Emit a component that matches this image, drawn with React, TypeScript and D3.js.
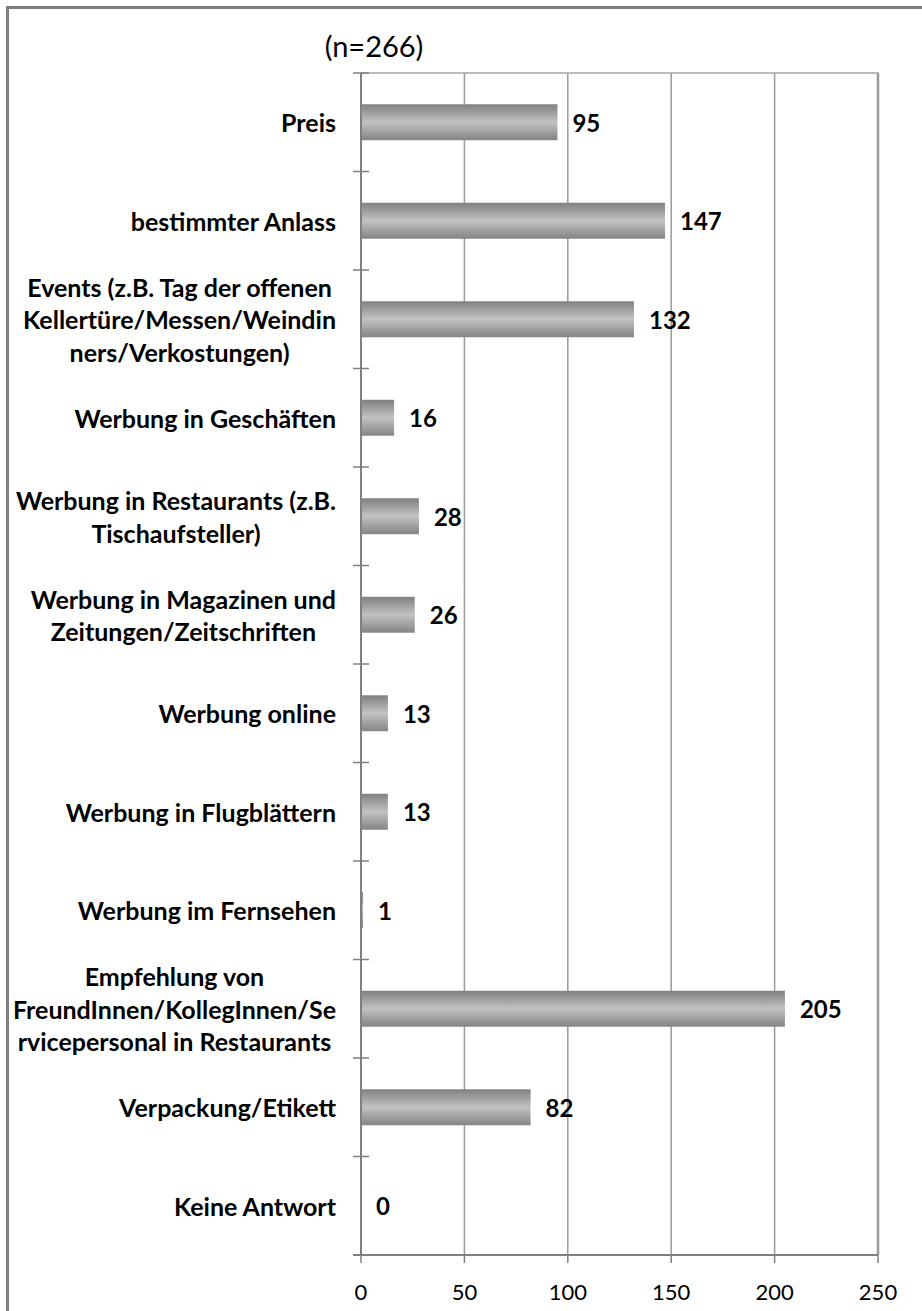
import React, { useEffect, useRef } from 'react';
import * as d3 from 'd3';

const width = 922, height = 1311;
const margin = { top: 73, right: 44, bottom: 56, left: 361 };

// category labels, already wrapped the way the chart wraps them
const categories: string[][] = [
    ['Preis'],
    ['bestimmter Anlass'],
    ['Events (z.B. Tag der offenen', 'Kellertüre/Messen/Weindin', 'ners/Verkostungen)'],
    ['Werbung in Geschäften'],
    ['Werbung in Restaurants (z.B.', 'Tischaufsteller)'],
    ['Werbung in Magazinen und', 'Zeitungen/Zeitschriften'],
    ['Werbung online'],
    ['Werbung in Flugblättern'],
    ['Werbung im Fernsehen'],
    ['Empfehlung von', 'FreundInnen/KollegInnen/Se', 'rvicepersonal in Restaurants'],
    ['Verpackung/Etikett'],
    ['Keine Antwort'],
];
const values = [95, 147, 132, 16, 28, 26, 13, 13, 1, 205, 82, 0];
const xTicks = [0, 50, 100, 150, 200, 250];
const title = '(n=266)';

const font = 'Lato, Calibri, sans-serif';

export default function App() {
    const ref = useRef<SVGSVGElement>(null);

    useEffect(() => {
        const svg = d3.select(ref.current);
        svg.selectAll('*').remove();

        const x = d3.scaleLinear().domain([0, 250]).range([margin.left, width - margin.right]);
        const ids = categories.map((_, i) => i);
        // paddingOuter = paddingInner / 2 keeps one step per category
        const y = d3.scaleBand<number>().domain(ids)
            .range([margin.top, height - margin.bottom])
            .paddingInner(0.635).paddingOuter(0.3175);
        const step = y.step();
        const yBottom = height - margin.bottom;

        // bar gradient
        const grad = svg.append('defs').append('linearGradient')
            .attr('id', 'barGrad').attr('x1', 0).attr('y1', 0).attr('x2', 0).attr('y2', 1);
        grad.append('stop').attr('offset', '0%').attr('stop-color', '#808080');
        grad.append('stop').attr('offset', '50%').attr('stop-color', '#c2c2c2');
        grad.append('stop').attr('offset', '100%').attr('stop-color', '#848484');

        // outer frame (runs off the right and bottom of the picture)
        svg.append('rect').attr('x', 7.5).attr('y', 7.5)
            .attr('width', width + 20).attr('height', height + 20)
            .attr('fill', 'none').attr('stroke', '#7f7f7f').attr('stroke-width', 3);

        // title
        svg.append('text').attr('x', 374).attr('y', 45)
            .attr('text-anchor', 'middle').attr('dominant-baseline', 'central')
            .style('font-family', font).style('font-size', '29px').attr('fill', '#000')
            .text(title);

        // vertical gridlines
        svg.append('g').selectAll('line').data(xTicks.slice(1)).join('line')
            .attr('x1', d => x(d)).attr('x2', d => x(d))
            .attr('y1', margin.top).attr('y2', yBottom)
            .attr('stroke', '#9a9a9a').attr('stroke-width', d => d === 250 ? 2.5 : 1.5);

        // top border of plot area
        svg.append('line').attr('x1', margin.left).attr('x2', x(250) + 1)
            .attr('y1', margin.top).attr('y2', margin.top)
            .attr('stroke', '#a6a6a6').attr('stroke-width', 1.5);

        // bars
        svg.append('g').selectAll('rect').data(values).join('rect')
            .attr('x', x(0)).attr('y', (_, i) => y(i)!)
            .attr('width', d => x(d) - x(0)).attr('height', y.bandwidth())
            .attr('fill', 'url(#barGrad)');

        // value labels
        svg.append('g').selectAll('text').data(values).join('text')
            .attr('x', d => x(d) + 15).attr('y', (_, i) => y(i)! + y.bandwidth() / 2)
            .attr('dominant-baseline', 'central')
            .style('font-family', font).style('font-size', '24px').style('font-weight', 'bold')
            .text(d => d);

        // category axis line and tick marks
        svg.append('line').attr('x1', x(0)).attr('x2', x(0))
            .attr('y1', margin.top).attr('y2', yBottom)
            .attr('stroke', '#808080').attr('stroke-width', 2);
        svg.append('g').selectAll('line').data(d3.range(categories.length + 1)).join('line')
            .attr('x1', x(0) - 8).attr('x2', x(0) + 8)
            .attr('y1', i => margin.top + i * step).attr('y2', i => margin.top + i * step)
            .attr('stroke', '#808080').attr('stroke-width', 1.5);

        // value axis
        const gx = svg.append('g');
        gx.append('line').attr('x1', x(0) - 8).attr('x2', x(250))
            .attr('y1', yBottom).attr('y2', yBottom)
            .attr('stroke', '#808080').attr('stroke-width', 2);
        gx.selectAll('line.tick').data(xTicks).join('line').attr('class', 'tick')
            .attr('x1', d => x(d)).attr('x2', d => x(d))
            .attr('y1', yBottom).attr('y2', yBottom + 8)
            .attr('stroke', '#808080').attr('stroke-width', 1.5);
        gx.selectAll('text').data(xTicks).join('text')
            .attr('x', d => x(d)).attr('y', yBottom + 36)
            .attr('text-anchor', 'middle').attr('dominant-baseline', 'central')
            .style('font-family', font).style('font-size', '22px')
            .text(d => d);

        // category labels: block right-aligned, lines centred inside the block
        const lineH = 32.5;
        const labelRight = 336;
        categories.forEach((lines, i) => {
            const cy = y(i)! + y.bandwidth() / 2;
            const g = svg.append('g');
            const texts = g.selectAll('text').data(lines).join('text')
                .attr('y', (_, k) => cy + (k - (lines.length - 1) / 2) * lineH)
                .attr('dominant-baseline', 'central')
                .attr('text-anchor', 'middle')
                .style('font-family', font).style('font-size', '25px').style('font-weight', 'bold')
                .text(d => d);
            let maxW = 0;
            texts.each(function () {
                maxW = Math.max(maxW, (this as SVGTextElement).getComputedTextLength());
            });
            texts.attr('x', labelRight - maxW / 2);
        });
    }, []);

    return (
        <svg ref={ref} width={width} height={height}
            style={{ display: 'block', position: 'absolute', left: 0, top: 0, background: '#fff' }} />
    );
}
